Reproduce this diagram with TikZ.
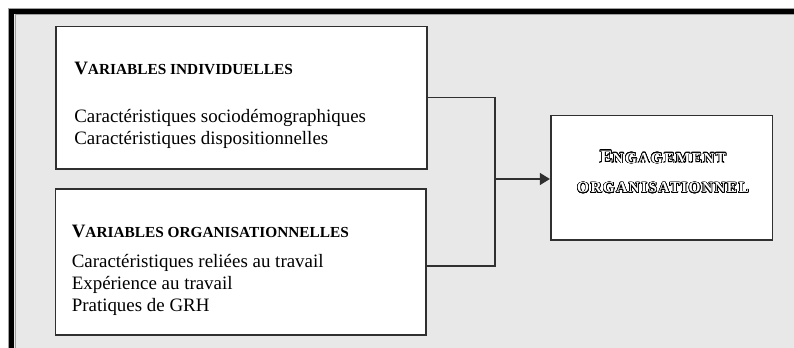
\documentclass[tikz,border=0pt]{standalone}
\usepackage{fontspec}
\setmainfont{Liberation Serif}
\newfontfamily\engfont[LetterSpace=9]{Liberation Serif}
\usepackage{contour}
\usetikzlibrary{arrows.meta,fit}
\definecolor{bg}{HTML}{E8E8E8}
\definecolor{edge}{HTML}{303030}
\definecolor{rim}{HTML}{A0A0A0}
\newcommand{\smc}[1]{{\fontsize{11.5}{13}\selectfont #1}}
\contourlength{0.5pt}
\contournumber{24}
\begin{document}
\begin{tikzpicture}[x=0.75pt,y=-0.75pt,
  box/.style={draw=edge,line width=1.2pt,fill=white,inner sep=0pt},
  txt/.style={anchor=base west,inner sep=0pt,font=\fontsize{14.2}{16.5}\selectfont},
  conn/.style={draw=edge,line width=1pt},
  tip/.style={-{Triangle[length=7.5pt,width=9pt]}}]
\useasboundingbox (0,0) rectangle (794,348);
\begin{scope}
\clip (0,0) rectangle (794,348);
\fill[white] (0,0) rectangle (794,348);
\fill[bg] (8,8) rectangle (900,500);
\draw[rim,line width=0.75pt] (8.5,8.5) rectangle (900,500);
\draw[black,line width=3.75pt] (11.5,11.5) rectangle (900,500);
\draw[rim,line width=0.75pt] (15,15) rectangle (900,500);
\end{scope}
% boxes
\node[box,fit={(56,26.7)(427,169)}] (indiv) {};
\node[box,fit={(55.3,189)(426,335)}] (orga) {};
\node[box,fit={(550.7,115.7)(772.3,240)}] (eng) {};
% texts box 1
\node[txt] (t1) at (74,75) {\textbf{V\smc{ARIABLES INDIVIDUELLES}}};
\node[txt] (t2) at (74,122.3) {Caractéristiques sociodémographiques};
\node[txt] (t3) at (74,144.3) {Caractéristiques dispositionnelles};
% texts box 2
\node[txt] (t4) at (71.5,238) {\textbf{V\smc{ARIABLES ORGANISATIONNELLES}}};
\node[txt] (t5) at (71.5,267.5) {Caractéristiques reliées au travail};
\node[txt] (t6) at (71.5,289.5) {Expérience au travail};
\node[txt] (t7) at (71.5,311.5) {Pratiques de GRH};
% engagement text
\node[anchor=base,inner sep=0pt,font=\fontsize{14.2}{16.5}\selectfont] (e1) at (663,163.3)
  {\contour{black}{\textcolor{white}{\engfont\bfseries E\smc{NGAGEMENT}}}};
\node[anchor=base,inner sep=0pt,font=\fontsize{14.2}{16.5}\selectfont] (e2) at (663,192.7)
  {\contour{black}{\textcolor{white}{\engfont\bfseries \smc{ORGANISATIONNEL}}}};
% connectors
\coordinate (jt) at (495,97.7);
\coordinate (jb) at (495,266);
\draw[conn] (indiv.east |- jt) -- (jt) -- (jb) -- (orga.east |- jb);
\draw[conn,tip] (jt |- 0,179) -- (eng.west |- 0,179);
\end{tikzpicture}
\end{document}
